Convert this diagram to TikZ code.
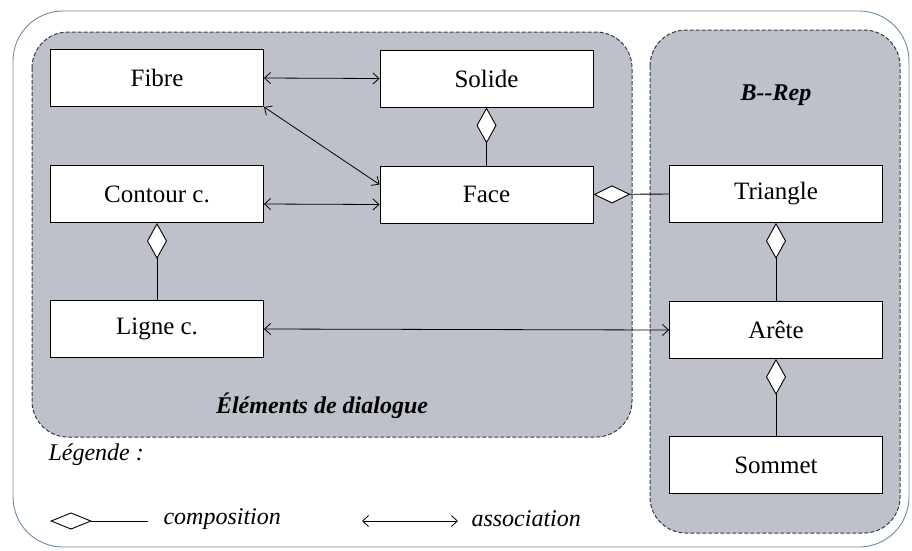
\documentclass[tikz,border=0pt]{standalone}
\usepackage{fontspec}
\setmainfont{Liberation Serif}
\usetikzlibrary{arrows.meta,calc}
\definecolor{regfill}{RGB}{190,193,201}
\definecolor{regline}{RGB}{45,60,80}
\definecolor{outline}{RGB}{110,140,165}
\tikzset{
  classbox/.style={draw=black, line width=0.9pt, fill=white, minimum height=57pt, minimum width=213pt, inner sep=0pt, font=\fontsize{25}{27}\selectfont},
  region/.style={draw=regline, dash pattern=on 4pt off 2pt, line width=1pt, fill=regfill, rounded corners=36pt},
  assoc/.style={line width=0.8pt, {Straight Barb[length=6pt,width=11pt]}-{Straight Barb[length=6pt,width=11pt]}},
  compo/.style={line width=0.9pt, {Diamond[fill=white,length=36pt,width=20pt]}-},
  compoh/.style={line width=0.9pt, {Diamond[fill=white,length=37pt,width=18pt]}-},
  lbl/.style={font=\fontsize{24}{26}\selectfont\itshape},
}
\begin{document}
\begin{tikzpicture}[x=1pt,y=-1pt]
\useasboundingbox (0,0) rectangle (912,550);
% outer frame
\draw[outline, line width=0.9pt, rounded corners=50pt] (13,11) rectangle (909,547);
% regions
\draw[region] (32,32) rectangle (632,437);
\draw[region] (650,30) rectangle (900,533);
% boxes
\node[classbox] (fibre) at (157,78) {Fibre};
\node[classbox] (solide) at (486.5,78.5) {Solide};
\node[classbox] (contour) at (157,194) {Contour c.};
\node[classbox] (face) at (486.5,194.5) {Face};
\node[classbox] (ligne) at (157,329) {Ligne c.};
\node[classbox] (triangle) at (776,194) {Triangle};
\node[classbox] (arete) at (776,330) {Arête};
\node[classbox] (sommet) at (776,465) {Sommet};
% associations
\draw[assoc] (fibre.east) -- (solide.west);
\draw[assoc] (fibre.south east) -- ([yshift=10pt]face.west);
\draw[assoc] ([yshift=-10pt]contour.east) -- ([yshift=-10pt]face.west);
\draw[assoc] (ligne.east) -- (arete.west);
% compositions
\draw[compo] (solide.south) -- (face.north);
\draw[compo] (contour.south) -- (ligne.north);
\draw[compo] (triangle.south) -- (arete.north);
\draw[compo] (arete.south) -- (sommet.north);
\draw[compoh] (face.east) -- (triangle.west);
% labels
\node[font=\fontsize{24}{26}\selectfont\itshape\bfseries] (elem) at (322,406) {Éléments de dialogue};
\node[font=\fontsize{24}{26}\selectfont\itshape\bfseries] (brep) at (776,95) {B-{}-Rep};
\node[lbl, anchor=west] (legende) at (45,455) {Légende :};
% legend
\coordinate (ld1) at (50,521);
\coordinate (ld2) at (148,521);
\draw[line width=0.9pt, {Diamond[fill=white,length=42pt,width=17pt]}-] (ld1) -- (ld2);
\node[lbl, anchor=west] (compotxt) at (160,519) {composition};
\coordinate (la1) at (362,521);
\coordinate (la2) at (458,521);
\draw[assoc] (la1) -- (la2);
\node[lbl, anchor=west] (assoctxt) at (468,519) {association};
\end{tikzpicture}
\end{document}
